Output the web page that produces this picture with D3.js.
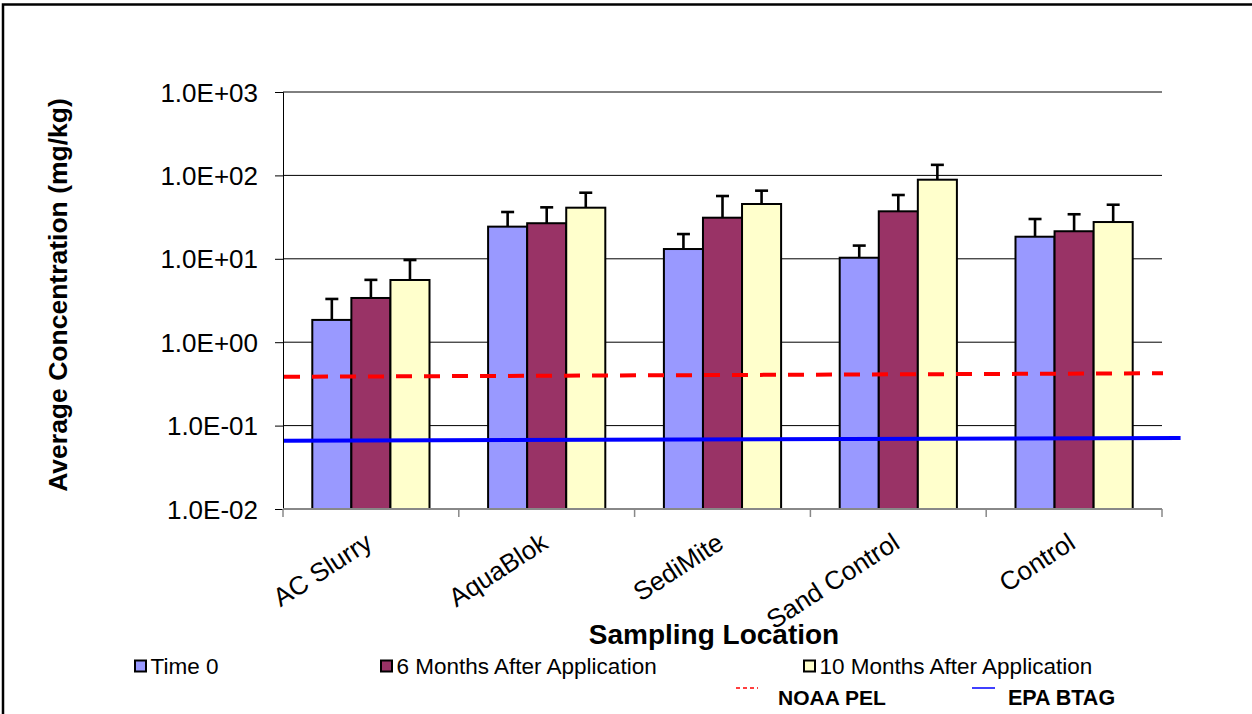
<!DOCTYPE html>
<html>
<head>
<meta charset="utf-8">
<script src="https://cdn.jsdelivr.net/npm/d3@7"></script>
<style>
  html, body { margin: 0; padding: 0; background: #fff; }
  svg { display: block; font-family: "Liberation Sans", Arial, sans-serif; }
</style>
</head>
<body>
<svg id="chart" width="1252" height="714"></svg>
<script>
// ---- data ----
const categories = ["AC Slurry", "AquaBlok", "SediMite", "Sand Control", "Control"];
const seriesNames = ["Time 0", "6 Months After Application", "10 Months After Application"];
const time0 = [1.85, 24.3, 13.1, 10.3, 18.4];
const months6 = [3.39, 26.7, 31.1, 37.1, 21.4];
const months10 = [5.57, 41.0, 45.4, 88.8, 27.6];
const errTime0 = [1.45, 12.1, 6.7, 4.1, 11.6];
const errMonths6 = [2.2, 14.7, 25.5, 21.1, 12.8];
const errMonths10 = [4.1, 21.0, 20.2, 45.0, 16.9];
const yTicks = [0.01, 0.1, 1, 10, 100, 1000];
const yTickLabels = ["1.0E-02", "1.0E-01", "1.0E+00", "1.0E+01", "1.0E+02", "1.0E+03"];
const pelX = [0, 5];
const pelY = [0.385, 0.424];
const btagX = [0, 5.1];
const btagY = [0.066, 0.071];
const refNames = ["NOAA PEL", "EPA BTAG"];

(function () {
const colors = ["#9999FF", "#993366", "#FFFFCC"];
const seriesVals = [time0, months6, months10];
const seriesErr = [errTime0, errMonths6, errMonths10];

const svg = d3.select("#chart");
const pLeft = 283, pRight = 1162, pTop = 92, pBottom = 509;

// frame
svg.append("path").attr("d", "M3,720 L3,4.5 L1260,4.5")
  .attr("fill", "none").attr("stroke", "#000").attr("stroke-width", 2.5);

const x = d3.scaleBand().domain(categories).range([pLeft, pRight]).paddingInner(0).paddingOuter(0);
const y = d3.scaleLog().domain([0.01, 1000]).range([pBottom, pTop]);
const xl = d3.scaleLinear().domain([0, 5]).range([pLeft + 1, pRight + 1]);

// gridlines
svg.append("g").selectAll("line").data(yTicks.slice(1)).join("line")
  .attr("x1", pLeft).attr("x2", pRight)
  .attr("y1", d => y(d)).attr("y2", d => y(d))
  .attr("stroke", "#000").attr("stroke-width", 1);

// y axis
const yAxis = d3.axisLeft(y).tickValues(yTicks).tickSize(8).tickPadding(17)
  .tickFormat((d, i) => yTickLabels[i]);
const gy = svg.append("g").attr("transform", `translate(${pLeft},0)`).call(yAxis);
gy.select(".domain").attr("stroke", "#000").attr("stroke-width", 1);
gy.selectAll(".tick line").attr("stroke", "#000");
gy.selectAll(".tick text").attr("font-size", 26).attr("fill", "#000")
  .attr("font-family", '"Liberation Sans", Arial, sans-serif').attr("dy", "0.35em");

// bars
const sub = d3.scaleBand().domain([0, 1, 2]).range([0, x.bandwidth()]).paddingInner(0).paddingOuter(0.75);
const bw = sub.bandwidth();
seriesVals.forEach((vals, s) => {
  const g = svg.append("g");
  g.selectAll("rect").data(vals).join("rect")
    .attr("x", (d, i) => x(categories[i]) + sub(s))
    .attr("y", d => y(d))
    .attr("width", bw)
    .attr("height", d => pBottom - y(d))
    .attr("fill", colors[s]).attr("stroke", "#000").attr("stroke-width", 2);
  const eg = svg.append("g").attr("stroke", "#000").attr("stroke-width", 2.6);
  vals.forEach((v, i) => {
    const cx = x(categories[i]) + sub(s) + bw / 2;
    const yTop = y(v + seriesErr[s][i]);
    eg.append("line").attr("x1", cx).attr("x2", cx).attr("y1", y(v)).attr("y2", yTop);
    eg.append("line").attr("x1", cx - 6.5).attr("x2", cx + 6.5).attr("y1", yTop).attr("y2", yTop);
  });
});

// x axis
const gx = svg.append("g").attr("transform", `translate(0,${pBottom})`);
gx.append("line").attr("x1", pLeft).attr("x2", pRight).attr("y1", 0).attr("y2", 0)
  .attr("stroke", "#888").attr("stroke-width", 2);
const bounds = categories.map(c => x(c)).concat([pRight]);
gx.selectAll("line.tk").data(bounds).join("line").attr("class", "tk")
  .attr("x1", d => d).attr("x2", d => d).attr("y1", 0).attr("y2", 8)
  .attr("stroke", "#888").attr("stroke-width", 1.5);
svg.append("g").selectAll("text").data(categories).join("text")
  .attr("transform", d => `translate(${x(d) + x.bandwidth() / 2 + 3},${547}) rotate(-33)`)
  .attr("text-anchor", "end").attr("font-size", 26).attr("fill", "#000")
  .text(d => d);

// reference lines
const line = d3.line().x(d => xl(d[0])).y(d => y(d[1]));
svg.append("path").datum(pelX.map((v, i) => [v, pelY[i]])).attr("d", line)
  .attr("fill", "none").attr("stroke", "#FF0000").attr("stroke-width", 4)
  .attr("stroke-dasharray", "16,12");
svg.append("path").datum(btagX.map((v, i) => [v, btagY[i]])).attr("d", line)
  .attr("fill", "none").attr("stroke", "#0000FF").attr("stroke-width", 4);

// axis titles
svg.append("text").attr("transform", "translate(67,295) rotate(-90)")
  .attr("text-anchor", "middle").attr("font-size", 26.5).attr("font-weight", "bold")
  .text("Average Concentration (mg/kg)");
svg.append("text").attr("x", 714).attr("y", 644)
  .attr("text-anchor", "middle").attr("font-size", 28).attr("font-weight", "bold")
  .text("Sampling Location");

// legend row 1
const legX = [135, 381, 804];
const lg = svg.append("g");
seriesNames.forEach((n, i) => {
  lg.append("rect").attr("x", legX[i]).attr("y", 660.5).attr("width", 11).attr("height", 11)
    .attr("fill", colors[i]).attr("stroke", "#000").attr("stroke-width", 2);
  lg.append("text").attr("x", legX[i] + 15.5).attr("y", 674).attr("font-size", 22.5).text(n);
});
// legend row 2
lg.append("line").attr("x1", 736).attr("x2", 758).attr("y1", 688).attr("y2", 688)
  .attr("stroke", "#FF0000").attr("stroke-width", 1.5).attr("stroke-dasharray", "4,3");
lg.append("text").attr("x", 778).attr("y", 705).attr("font-size", 21).attr("font-weight", "bold").text(refNames[0]);
lg.append("line").attr("x1", 972).attr("x2", 995).attr("y1", 688).attr("y2", 688)
  .attr("stroke", "#0000FF").attr("stroke-width", 1.5);
lg.append("text").attr("x", 1008).attr("y", 705).attr("font-size", 21.5).attr("font-weight", "bold").text(refNames[1]);
})();
</script>
</body>
</html>
